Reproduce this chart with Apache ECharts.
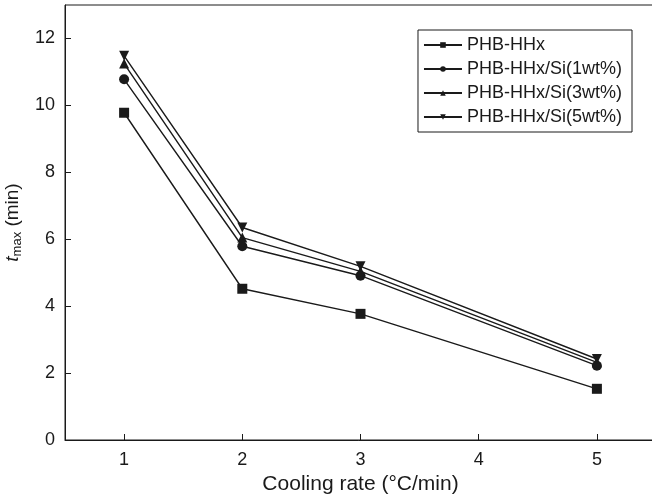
<!DOCTYPE html>
<html>
<head>
<meta charset="utf-8">
<script src="https://cdn.jsdelivr.net/npm/echarts@6/dist/echarts.min.js"></script>
<style>html,body{margin:0;padding:0;background:#fff}#c{width:652px;height:500px}</style>
</head>
<body>
<div id="c"></div>
<script>
const coolingRates = [1, 2, 3, 5];
const seriesNames = ['PHB-HHx', 'PHB-HHx/Si(1wt%)', 'PHB-HHx/Si(3wt%)', 'PHB-HHx/Si(5wt%)'];
const phb = [9.78, 4.52, 3.77, 1.53];
const si1 = [10.78, 5.79, 4.91, 2.22];
const si3 = [11.25, 6.05, 5.04, 2.32];
const si5 = [11.48, 6.35, 5.19, 2.42];
const xTicks = [1, 2, 3, 4, 5];
const yTicks = [0, 2, 4, 6, 8, 10, 12];

const font = 'Liberation Sans, Arial, sans-serif';
const ink = '#1a1a1a';
const symbols = ['rect', 'circle', 'triangle', 'triangle'];
const rotates = [0, 0, 0, 180];
const sizes = [10, 10, 10, 10];
const allData = [phb, si1, si3, si5];

const series = allData.map((vals, i) => ({
  name: seriesNames[i],
  type: 'line',
  data: coolingRates.map((x, j) => [x, vals[j]]),
  symbol: symbols[i],
  symbolRotate: rotates[i],
  symbolSize: sizes[i],
  showAllSymbol: true,
  lineStyle: { color: ink, width: 1.4 },
  itemStyle: { color: ink, borderWidth: 0 },
  emphasis: { disabled: true },
  animation: false
}));

const chart = echarts.init(document.getElementById('c'), null, { renderer: 'canvas' });
chart.setOption({
  animation: false,
  backgroundColor: '#fff',
  grid: { left: 65, top: 5, right: -4, bottom: 60, containLabel: false, outerBoundsMode: 'none',
    show: true, borderColor: ink, borderWidth: 1 },
  legend: {
    data: seriesNames,
    orient: 'vertical',
    right: 20,
    top: 30,
    padding: [6, 10, 6, 5],
    borderColor: ink,
    borderWidth: 1,
    backgroundColor: '#fff',
    itemWidth: 38,
    itemHeight: 7,
    itemGap: 6,
    textStyle: { fontFamily: font, fontSize: 18, color: ink }
  },
  xAxis: {
    type: 'value',
    min: 0.5,
    max: 5.5,
    interval: 0.5,
    name: 'Cooling rate (°C/min)',
    nameLocation: 'middle',
    nameGap: 33,
    nameTextStyle: { fontFamily: font, fontSize: 21, color: ink },
    axisLine: { lineStyle: { color: ink, width: 1 } },
    axisTick: { inside: true, length: 6, lineStyle: { color: ink }, customValues: xTicks },
    axisLabel: { fontFamily: font, fontSize: 18, color: ink, margin: 11, customValues: xTicks },
    splitLine: { show: false }
  },
  yAxis: {
    type: 'value',
    min: 0,
    max: 13,
    interval: 1,
    name: '{t|t}{sub|max}{n| (min)}',
    nameLocation: 'middle',
    nameGap: 37,
    nameRotate: 90,
    nameTextStyle: {
      fontFamily: font, fontSize: 19, color: ink,
      rich: {
        t: { fontFamily: font, fontSize: 19, fontStyle: 'italic', color: ink },
        sub: { fontFamily: font, fontSize: 13, color: ink, padding: [10, 0, 0, 0] },
        n: { fontFamily: font, fontSize: 19, color: ink }
      }
    },
    axisLine: { show: true, lineStyle: { color: ink, width: 1 } },
    axisTick: { inside: true, length: 6, lineStyle: { color: ink }, customValues: yTicks },
    axisLabel: { fontFamily: font, fontSize: 18, color: ink, margin: 10, customValues: yTicks },
    splitLine: { show: false }
  },
  series: series
});
</script>
</body>
</html>
